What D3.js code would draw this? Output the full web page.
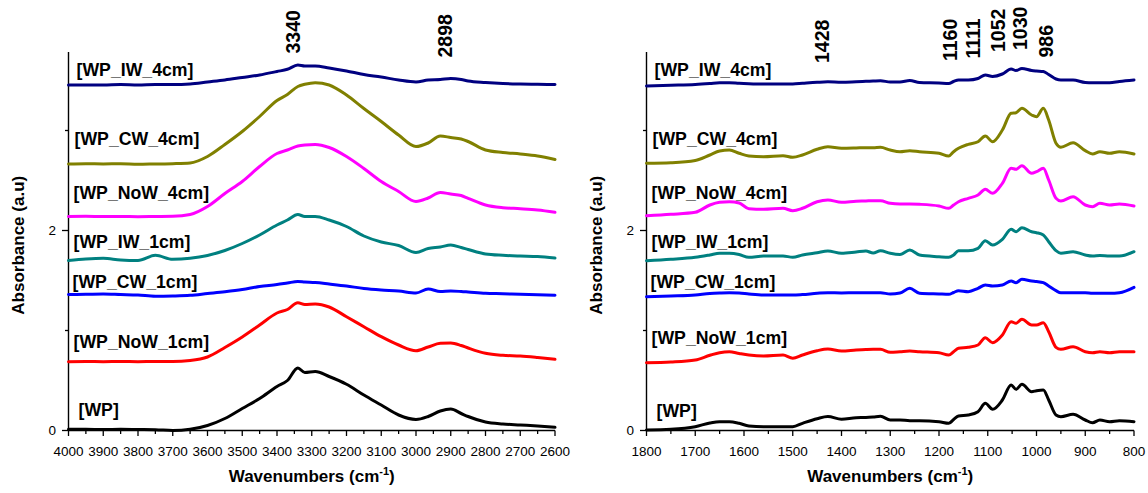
<!DOCTYPE html>
<html>
<head>
<meta charset="utf-8">
<script src="https://cdn.jsdelivr.net/npm/d3@7"></script>
<style>
  html, body { margin: 0; padding: 0; background: #fff; }
  svg { display: block; }
  text { font-family: "Liberation Sans", Arial, Helvetica, sans-serif; }
</style>
</head>
<body>
<svg id="chart" width="1148" height="493"></svg>
<script>
// ---------- Data ----------
const sampleNames = ["[WP_IW_4cm]", "[WP_CW_4cm]", "[WP_NoW_4cm]", "[WP_IW_1cm]", "[WP_CW_1cm]", "[WP_NoW_1cm]", "[WP]"];

// O-H / C-H stretching region (cm-1), stacked absorbance
const ohWavenumbers = [4000, 3950, 3900, 3850, 3800, 3750, 3700, 3650, 3600, 3550, 3500, 3450, 3400, 3370, 3340, 3320, 3290, 3250, 3200, 3150, 3100, 3050, 3000, 2965, 2930, 2900, 2870, 2850, 2800, 2750, 2700, 2650, 2600];
const ohIW4cm  = [3.455, 3.455, 3.455, 3.46, 3.455, 3.46, 3.46, 3.465, 3.485, 3.505, 3.53, 3.555, 3.59, 3.612, 3.655, 3.645, 3.645, 3.625, 3.595, 3.56, 3.535, 3.505, 3.485, 3.505, 3.51, 3.52, 3.51, 3.495, 3.48, 3.47, 3.465, 3.462, 3.46];
const ohCW4cm  = [2.665, 2.668, 2.665, 2.668, 2.662, 2.665, 2.668, 2.675, 2.74, 2.86, 2.99, 3.14, 3.30, 3.36, 3.44, 3.462, 3.478, 3.455, 3.355, 3.22, 3.09, 2.955, 2.84, 2.875, 2.945, 2.93, 2.915, 2.89, 2.805, 2.78, 2.765, 2.745, 2.71];
const ohNoW4cm = [2.14, 2.142, 2.14, 2.14, 2.138, 2.14, 2.142, 2.16, 2.24, 2.37, 2.49, 2.64, 2.77, 2.805, 2.845, 2.855, 2.86, 2.83, 2.74, 2.62, 2.49, 2.39, 2.29, 2.325, 2.38, 2.365, 2.35, 2.322, 2.255, 2.228, 2.218, 2.205, 2.182];
const ohIW1cm  = [1.70, 1.715, 1.722, 1.705, 1.70, 1.752, 1.712, 1.722, 1.75, 1.80, 1.87, 1.955, 2.055, 2.105, 2.16, 2.14, 2.14, 2.105, 2.04, 1.945, 1.885, 1.85, 1.78, 1.82, 1.835, 1.855, 1.83, 1.81, 1.765, 1.752, 1.745, 1.74, 1.725];
const ohCW1cm  = [1.36, 1.362, 1.365, 1.36, 1.355, 1.342, 1.345, 1.352, 1.37, 1.388, 1.41, 1.44, 1.46, 1.475, 1.49, 1.485, 1.48, 1.465, 1.445, 1.42, 1.405, 1.395, 1.375, 1.415, 1.39, 1.395, 1.39, 1.385, 1.372, 1.368, 1.362, 1.358, 1.352];
const ohNoW1cm = [0.688, 0.69, 0.688, 0.69, 0.688, 0.69, 0.69, 0.70, 0.735, 0.83, 0.935, 1.055, 1.175, 1.21, 1.278, 1.26, 1.265, 1.235, 1.138, 1.038, 0.938, 0.855, 0.798, 0.835, 0.872, 0.875, 0.85, 0.825, 0.772, 0.752, 0.745, 0.73, 0.712];
const ohWP     = [0.012, 0.012, 0.01, 0.012, 0.01, 0.008, 0.0, 0.012, 0.05, 0.12, 0.22, 0.32, 0.44, 0.50, 0.625, 0.58, 0.59, 0.54, 0.462, 0.355, 0.255, 0.155, 0.11, 0.14, 0.195, 0.215, 0.17, 0.14, 0.085, 0.065, 0.055, 0.045, 0.032];

// Fingerprint region (cm-1), stacked absorbance
const fpWavenumbers = [1800, 1750, 1700, 1670, 1650, 1630, 1610, 1590, 1560, 1520, 1500, 1480, 1450, 1428, 1400, 1370, 1350, 1335, 1320, 1300, 1280, 1260, 1240, 1200, 1180, 1170, 1160, 1140, 1120, 1105, 1090, 1070, 1052, 1042, 1030, 1010, 1000, 986, 975, 960, 950, 925, 900, 885, 870, 850, 830, 800];
const fpIW4cm  = [3.445, 3.452, 3.46, 3.47, 3.478, 3.478, 3.472, 3.468, 3.465, 3.465, 3.465, 3.472, 3.482, 3.487, 3.483, 3.488, 3.492, 3.495, 3.498, 3.485, 3.485, 3.50, 3.48, 3.475, 3.47, 3.49, 3.505, 3.505, 3.52, 3.555, 3.54, 3.565, 3.615, 3.60, 3.62, 3.60, 3.595, 3.59, 3.56, 3.515, 3.505, 3.505, 3.48, 3.478, 3.478, 3.478, 3.49, 3.505];
const fpCW4cm  = [2.672, 2.678, 2.70, 2.755, 2.795, 2.805, 2.772, 2.745, 2.738, 2.748, 2.732, 2.755, 2.812, 2.838, 2.822, 2.825, 2.828, 2.828, 2.832, 2.805, 2.788, 2.798, 2.788, 2.772, 2.745, 2.788, 2.822, 2.862, 2.888, 2.945, 2.888, 3.005, 3.172, 3.178, 3.222, 3.155, 3.138, 3.222, 3.105, 2.872, 2.832, 2.878, 2.798, 2.765, 2.788, 2.772, 2.788, 2.765];
const fpNoW4cm = [2.148, 2.162, 2.182, 2.255, 2.282, 2.288, 2.275, 2.218, 2.212, 2.222, 2.198, 2.222, 2.288, 2.305, 2.282, 2.292, 2.295, 2.298, 2.298, 2.272, 2.265, 2.265, 2.262, 2.245, 2.222, 2.255, 2.288, 2.322, 2.355, 2.412, 2.372, 2.472, 2.622, 2.612, 2.648, 2.572, 2.588, 2.622, 2.505, 2.322, 2.295, 2.338, 2.255, 2.238, 2.272, 2.255, 2.265, 2.245];
const fpIW1cm  = [1.698, 1.712, 1.732, 1.755, 1.772, 1.772, 1.76, 1.732, 1.745, 1.745, 1.732, 1.755, 1.778, 1.795, 1.772, 1.785, 1.795, 1.775, 1.798, 1.772, 1.76, 1.805, 1.755, 1.738, 1.732, 1.755, 1.798, 1.798, 1.822, 1.898, 1.855, 1.912, 2.012, 1.988, 2.028, 1.988, 1.978, 1.955, 1.888, 1.798, 1.772, 1.788, 1.755, 1.745, 1.75, 1.745, 1.745, 1.788];
const fpCW1cm  = [1.338, 1.345, 1.355, 1.37, 1.375, 1.378, 1.375, 1.365, 1.355, 1.355, 1.355, 1.36, 1.372, 1.378, 1.375, 1.378, 1.378, 1.378, 1.378, 1.365, 1.375, 1.422, 1.372, 1.365, 1.362, 1.38, 1.398, 1.388, 1.422, 1.455, 1.445, 1.455, 1.495, 1.478, 1.512, 1.495, 1.49, 1.478, 1.445, 1.398, 1.378, 1.378, 1.378, 1.372, 1.372, 1.372, 1.378, 1.432];
const fpNoW1cm = [0.678, 0.685, 0.705, 0.752, 0.778, 0.787, 0.77, 0.755, 0.745, 0.755, 0.722, 0.755, 0.798, 0.815, 0.795, 0.805, 0.81, 0.812, 0.812, 0.782, 0.788, 0.795, 0.788, 0.778, 0.755, 0.788, 0.822, 0.832, 0.855, 0.928, 0.878, 0.955, 1.088, 1.072, 1.112, 1.055, 1.055, 1.078, 0.988, 0.832, 0.812, 0.838, 0.788, 0.778, 0.788, 0.778, 0.788, 0.788];
const fpWP     = [0.005, 0.012, 0.038, 0.075, 0.088, 0.088, 0.072, 0.045, 0.038, 0.038, 0.038, 0.072, 0.118, 0.14, 0.112, 0.128, 0.13, 0.135, 0.142, 0.105, 0.105, 0.098, 0.098, 0.088, 0.072, 0.11, 0.145, 0.155, 0.188, 0.272, 0.212, 0.305, 0.455, 0.412, 0.462, 0.388, 0.398, 0.405, 0.305, 0.155, 0.138, 0.162, 0.105, 0.078, 0.105, 0.088, 0.098, 0.088];

// Assigned band positions (cm-1)
const ohPeaks = [3340, 2898];
const fpPeaks = [1428, 1160, 1111, 1052, 1030, 986];

// Axis ticks
const yMajorTicks = [0, 2];
const yMinorTicks = [1, 3];

// ---------- Styling / layout ----------
const sampleColors = ["#000080", "#808000", "#ff00ff", "#008080", "#0000ff", "#ff0000", "#000000"];
const plotTop = 52, plotBottom = 430.5;
const yMax = 3.785;
// series-name placement: x indent from axis, baseline y per panel
const nameIndent = [8, 6, 5, 5, 4, 5, 10];
const nameBaselineLeft  = [76, 144.8, 198.8, 247.6, 288, 348, 416.3];
const nameBaselineRight = [75.5, 145, 199.3, 248.3, 287.5, 343.5, 416.7];
// band label nudges: horizontal shift of the text centre and bottom end of the rotated text
const peakNudge = {
  3340: [-4.5, 53.5], 2898: [-6, 57.5],
  1428: [-6, 63], 1160: [-9, 61], 1111: [-9, 58.5], 1052: [-13, 52], 1030: [-1.5, 50], 986: [2.5, 57.5]
};

const svg = d3.select("#chart");

function drawPanel(cfg) {
  const g = svg.append("g");
  const x = d3.scaleLinear().domain(cfg.domain).range(cfg.range);
  const y = d3.scaleLinear().domain([0, yMax]).range([plotBottom, plotTop]);
  const axisX = cfg.range[0];

  // x ticks: minor every 50, labelled every 100
  const [hi, lo] = cfg.domain;
  const all50 = d3.range(lo, hi + 1, 50);
  const minorX = all50.filter(v => v % 100 !== 0);
  const majorX = all50.filter(v => v % 100 === 0);

  g.append("g")
    .attr("transform", `translate(0,${plotBottom})`)
    .call(d3.axisBottom(x).tickValues(minorX).tickSize(3.5).tickSizeOuter(0).tickFormat("").offset(0))
    .call(a => a.select(".domain").remove())
    .call(a => a.selectAll("line").attr("stroke", "#000").attr("stroke-width", 1.3));

  const xa = g.append("g")
    .attr("transform", `translate(0,${plotBottom})`)
    .call(d3.axisBottom(x).tickValues(majorX).tickSize(5.5).tickSizeOuter(0).tickPadding(10.4).tickFormat(d3.format("d")).offset(0));
  xa.select(".domain").attr("stroke", "#000").attr("stroke-width", 1.4);
  xa.selectAll("line").attr("stroke", "#000").attr("stroke-width", 1.3);
  xa.selectAll("text").attr("font-size", "13.5px").attr("fill", "#000")
    .attr("font-family", '"Liberation Sans", Arial, sans-serif');

  // y axis
  const ya = g.append("g")
    .attr("transform", `translate(${axisX},0)`)
    .call(d3.axisLeft(y).tickValues(yMajorTicks).tickSize(6.5).tickSizeOuter(0).tickPadding(6).tickFormat(d3.format("d")).offset(0));
  ya.select(".domain").attr("stroke", "#000").attr("stroke-width", 1.4);
  ya.selectAll("line").attr("stroke", "#000").attr("stroke-width", 1.3);
  ya.selectAll("text").attr("font-size", "13.5px").attr("fill", "#000")
    .attr("font-family", '"Liberation Sans", Arial, sans-serif');
  g.append("g")
    .attr("transform", `translate(${axisX},0)`)
    .call(d3.axisLeft(y).tickValues(yMinorTicks).tickSize(3.5).tickSizeOuter(0).tickFormat("").offset(0))
    .call(a => a.select(".domain").remove())
    .call(a => a.selectAll("line").attr("stroke", "#000").attr("stroke-width", 1.3));

  // axis titles
  const xt = g.append("text")
    .attr("x", (cfg.range[0] + cfg.range[1]) / 2)
    .attr("y", 482)
    .attr("text-anchor", "middle")
    .attr("font-size", "17px").attr("font-weight", "bold").attr("fill", "#000");
  xt.append("tspan").text("Wavenumbers (cm");
  xt.append("tspan").attr("font-size", "11px").attr("dy", -7).text("-1");
  xt.append("tspan").attr("dy", 7).text(")");

  g.append("text")
    .attr("transform", `translate(${axisX - 45},${(plotTop + plotBottom) / 2 + 4}) rotate(-90)`)
    .attr("text-anchor", "middle")
    .attr("font-size", "17px").attr("font-weight", "bold").attr("fill", "#000")
    .text("Absorbance (a.u)");

  // spectra
  const line = d3.line().x(d => x(d[0])).y(d => y(d[1])).curve(d3.curveMonotoneX);
  cfg.series.forEach((vals, i) => {
    const pts = cfg.wavenumbers.map((w, j) => [w, vals[j]]);
    g.append("path")
      .datum(pts)
      .attr("d", line)
      .attr("fill", "none")
      .attr("stroke", sampleColors[i])
      .attr("stroke-width", 3)
      .attr("stroke-linejoin", "round")
      .attr("stroke-linecap", "round");
  });

  // sample names
  sampleNames.forEach((name, i) => {
    g.append("text")
      .attr("x", axisX + nameIndent[i])
      .attr("y", cfg.nameBaseline[i])
      .attr("font-size", "17.7px").attr("font-weight", "bold").attr("fill", "#000")
      .text(name);
  });

  // band assignments
  cfg.peaks.forEach(w => {
    const [dx, bottom] = peakNudge[w];
    g.append("text")
      .attr("transform", `translate(${x(w) + dx + 7},${bottom}) rotate(-90)`)
      .attr("text-anchor", "start")
      .attr("font-size", "19.5px").attr("font-weight", "bold").attr("fill", "#000")
      .text(w);
  });
}

drawPanel({
  domain: [4000, 2600], range: [68.5, 555],
  wavenumbers: ohWavenumbers,
  series: [ohIW4cm, ohCW4cm, ohNoW4cm, ohIW1cm, ohCW1cm, ohNoW1cm, ohWP],
  peaks: ohPeaks,
  nameBaseline: nameBaselineLeft
});

drawPanel({
  domain: [1800, 800], range: [646.5, 1134],
  wavenumbers: fpWavenumbers,
  series: [fpIW4cm, fpCW4cm, fpNoW4cm, fpIW1cm, fpCW1cm, fpNoW1cm, fpWP],
  peaks: fpPeaks,
  nameBaseline: nameBaselineRight
});
</script>
</body>
</html>
